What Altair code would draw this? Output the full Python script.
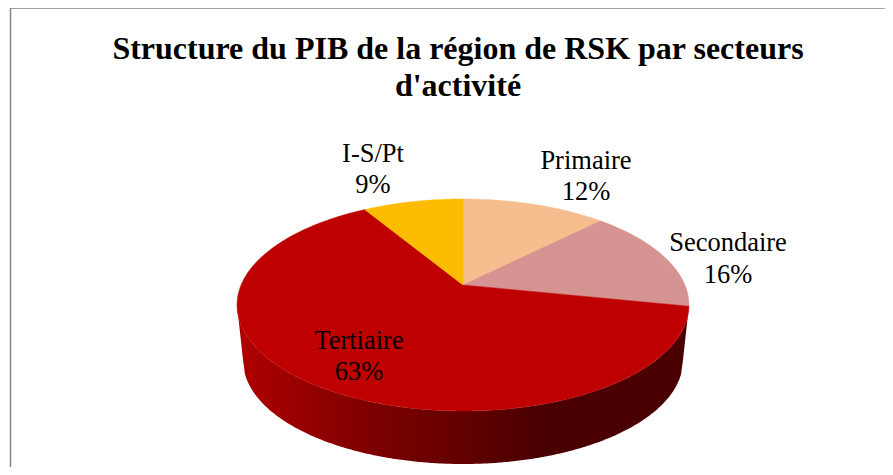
import math
import altair as alt
import pandas as pd

# Chart values
categories = ["Primaire", "Secondaire", "Tertiaire", "I-S/Pt"]
shares = [12.4, 15.8, 63.2, 8.6]
slice_colors = ["#F6BD8E", "#D59391", "#BE0000", "#FDBC00"]
title_lines = ["Structure du PIB de la région de RSK par secteurs", "d'activité"]
wall_stops = [(0.0, "#B00000"), (0.3, "#7C0000"), (0.5, "#640000"), (0.66, "#4A0000"), (1.0, "#4A0000")]
label_x = [586, 728, 359, 373]
label_y1 = [161, 243, 341, 154]
label_y2 = [192, 275, 372, 185]

# Perspective tilt of the disc
CX, CY = 463, 285
A, B, K = 221.9, 102.2, 0.1887
LOW_S, LOW_DY = 0.973, 56.4


def project(frac):
    t = 2 * math.pi * frac
    u, v = math.sin(t), -math.cos(t)
    w = 1 - K * v
    return A * u / w, B * v / w


rows = []
cum = 0
for name, share in zip(categories, shares):
    rows.append(dict(slice=name, o=0, x=CX, y=CY))
    n = max(2, int(share * 3))
    for i in range(n + 1):
        dx, dy = project((cum + share * i / n) / 100)
        rows.append(dict(slice=name, o=i + 1, x=CX + dx, y=CY + dy))
    rows.append(dict(slice=name, o=n + 2, x=CX, y=CY))
    cum += share
wedges = pd.DataFrame(rows)

xs = [round(-226 + 2 * i, 2) for i in range(227)]


def lower_arc(x):
    # lower half of the projected circle: centre +20, half-height 106, half-width 226
    r = max(0.0, 1 - (x / 226) ** 2)
    return 20 + 106 * math.sqrt(r)


wall_rows = []
for x in xs:
    top = lower_arc(x)
    if abs(x) <= 226 * LOW_S:
        bot = LOW_DY + LOW_S * lower_arc(x / LOW_S)
    else:
        frac = (226 - abs(x)) / (226 * (1 - LOW_S))
        bot = 20 + frac * (LOW_DY + LOW_S * 20 - 20)
    wall_rows.append(dict(x=CX + x, y=CY + top, y2=CY + bot))
wall_df = pd.DataFrame(wall_rows)

X = alt.X("x:Q", scale=alt.Scale(domain=[8, 885], nice=False, zero=False), axis=None)
Y = alt.Y("y:Q", scale=alt.Scale(domain=[467, 8], nice=False, zero=False), axis=None)

wall_layer = alt.Chart(wall_df).mark_area(
    color=alt.Gradient(
        gradient="linear", x1=0, y1=0, x2=1, y2=0,
        stops=[alt.GradientStop(offset=o, color=c) for o, c in wall_stops],
    )
).encode(x=X, y=Y, y2="y2:Q")

face_layers = [
    alt.Chart(wedges[wedges.slice == name]).mark_line(
        fill=col, stroke=col, strokeWidth=0.5, interpolate="linear"
    ).encode(x=X, y=Y, order="o:Q")
    for name, col in zip(categories, slice_colors)
]

frame_top = alt.Chart(pd.DataFrame({"x": [10.5], "x2": [885], "y": [8]})).mark_rule(
    color="#868686", strokeWidth=1.5
).encode(x=X, x2="x2:Q", y=Y)
frame_left = alt.Chart(pd.DataFrame({"x": [10.5], "y": [8], "y2": [467]})).mark_rule(
    color="#868686", strokeWidth=1.5
).encode(x=X, y=Y, y2="y2:Q")

label_df = pd.DataFrame(
    [dict(t=c, x=x, y=y) for c, x, y in zip(categories, label_x, label_y1)]
    + [dict(t=f"{round(s)}%", x=x, y=y) for s, x, y in zip(shares, label_x, label_y2)]
)
labels = alt.Chart(label_df).mark_text(
    font="Liberation Serif", fontSize=26.5, color="#000000", baseline="middle", align="center"
).encode(x=X, y=Y, text="t:N")

title_df = pd.DataFrame({"t": title_lines, "x": [458, 458], "y": [49, 86]})
title = alt.Chart(title_df).mark_text(
    font="Liberation Serif", fontSize=32, fontWeight="bold", color="#000000",
    baseline="middle", align="center",
).encode(x=X, y=Y, text="t:N")

chart = alt.layer(wall_layer, *face_layers, frame_top, frame_left, labels, title).properties(
    width=877, height=459, padding=0, autosize=alt.AutoSizeParams(type="none"),
    background="#FFFFFF",
).configure_view(stroke=None)

chart.save("out.html", embed_options={"renderer": "svg", "actions": False})
